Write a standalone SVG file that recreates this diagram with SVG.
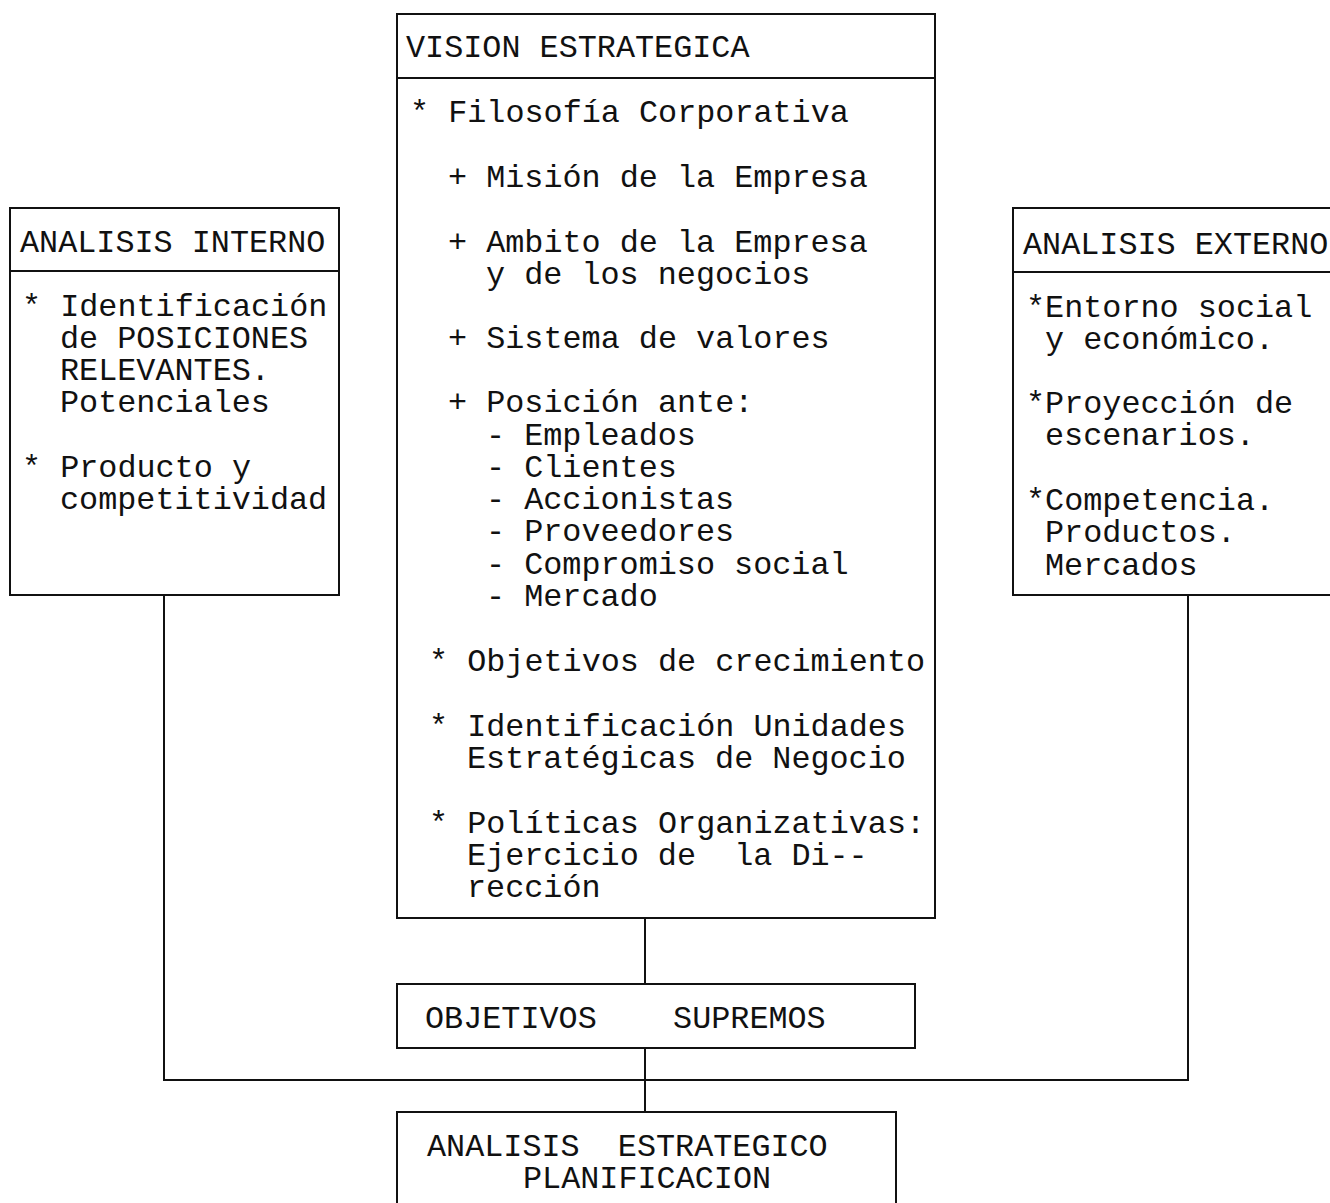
<svg xmlns="http://www.w3.org/2000/svg" width="1330" height="1203" viewBox="0 0 1330 1203">
<style>
.box{fill:none;stroke:#111;stroke-width:2}
.ln{fill:none;stroke:#111;stroke-width:2}
text{font-family:"Liberation Mono","Courier New",monospace;font-size:31.8px;fill:#111;white-space:pre}
</style>
<rect width="1330" height="1203" fill="#fff"/>
<g id="connectors">
<line class="ln" x1="645" y1="918" x2="645" y2="984"/>
<line class="ln" x1="645" y1="1048" x2="645" y2="1112"/>
<polyline class="ln" points="164,595 164,1080 1188,1080 1188,595"/>
</g>
<g id="vision">
<rect class="box" x="397" y="14" width="538" height="904"/>
<line class="ln" x1="397" y1="78" x2="935" y2="78"/>
<text x="406" y="57">VISION ESTRATEGICA</text>
<text x="410" y="122">* Filosofía Corporativa</text>
<text x="448" y="187">+ Misión de la Empresa</text>
<text x="448" y="252">+ Ambito de la Empresa</text>
<text x="486" y="284">y de los negocios</text>
<text x="448" y="348">+ Sistema de valores</text>
<text x="448" y="412">+ Posición ante:</text>
<text x="486" y="445">- Empleados</text>
<text x="486" y="477">- Clientes</text>
<text x="486" y="509">- Accionistas</text>
<text x="486" y="541">- Proveedores</text>
<text x="486" y="574">- Compromiso social</text>
<text x="486" y="606">- Mercado</text>
<text x="429" y="671">* Objetivos de crecimiento</text>
<text x="429" y="736">* Identificación Unidades</text>
<text x="467" y="768">Estratégicas de Negocio</text>
<text x="429" y="833">* Políticas Organizativas:</text>
<text x="467" y="865">Ejercicio de  la Di--</text>
<text x="467" y="897">rección</text>
</g>
<g id="interno">
<rect class="box" x="10" y="208" width="329" height="387"/>
<line class="ln" x1="10" y1="271" x2="339" y2="271"/>
<text x="20" y="252">ANALISIS INTERNO</text>
<text x="22" y="316">* Identificación</text>
<text x="60" y="348">de POSICIONES</text>
<text x="60" y="380">RELEVANTES.</text>
<text x="60" y="412">Potenciales</text>
<text x="22" y="477">* Producto y</text>
<text x="60" y="509">competitividad</text>
</g>
<g id="externo">
<rect class="box" x="1013" y="208" width="340" height="387"/>
<line class="ln" x1="1013" y1="272" x2="1330" y2="272"/>
<text x="1023" y="254">ANALISIS EXTERNO</text>
<text x="1026" y="317">*Entorno social</text>
<text x="1045" y="349">y económico.</text>
<text x="1026" y="413">*Proyección de</text>
<text x="1045" y="445">escenarios.</text>
<text x="1026" y="510">*Competencia.</text>
<text x="1045" y="542">Productos.</text>
<text x="1045" y="575">Mercados</text>
</g>
<g id="objetivos">
<rect class="box" x="397" y="984" width="518" height="64"/>
<text x="425" y="1028">OBJETIVOS    SUPREMOS</text>
</g>
<g id="analisis-estrategico">
<rect class="box" x="397" y="1112" width="499" height="110"/>
<text x="427" y="1156">ANALISIS  ESTRATEGICO</text>
<text x="523" y="1188">PLANIFICACION</text>
</g>
</svg>
